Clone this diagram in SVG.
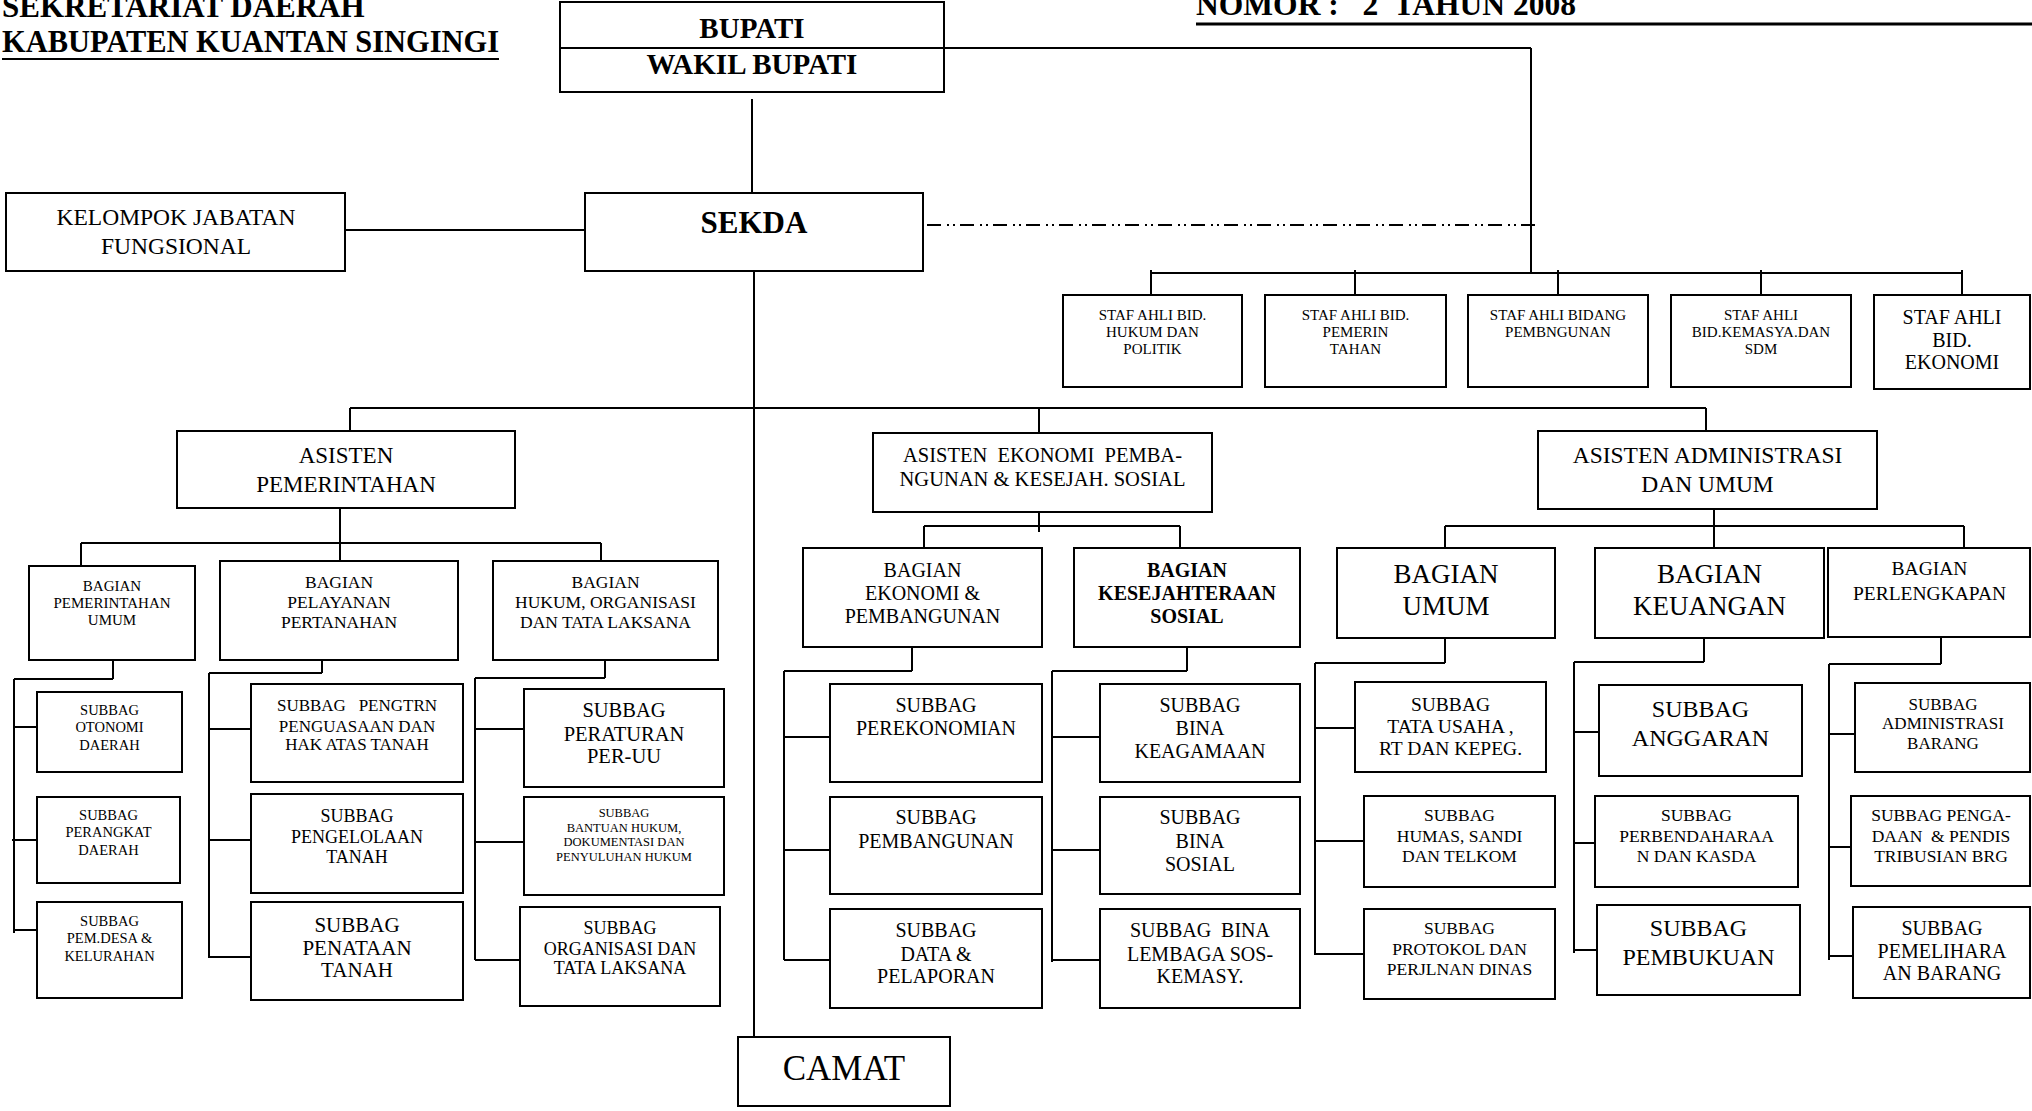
<svg xmlns="http://www.w3.org/2000/svg" width="2032" height="1111" viewBox="0 0 2032 1111">
<style>
.bg{fill:#fff}
.box{fill:#fff;stroke:#000;stroke-width:2}
.c{stroke:#000;stroke-width:2;fill:none}
.dd{stroke:#000;stroke-width:2;fill:none;stroke-dasharray:14 6 2 4 2 5}
text{font-family:"Liberation Serif","Times New Roman",serif;fill:#000;text-anchor:middle}
.b{font-weight:bold}
.l{text-anchor:start}
</style>
<rect class="bg" x="0" y="0" width="2032" height="1111"/>

<g id="title">
<text class="b l" x="2" y="17" font-size="31">SEKRETARIAT DAERAH</text>
<text class="b l" x="2" y="52" font-size="31" textLength="497" lengthAdjust="spacingAndGlyphs">KABUPATEN KUANTAN SINGINGI</text>
<line class="c" x1="2" y1="59" x2="499" y2="59"/>
<text class="b l" x="1196" y="15" font-size="31" xml:space="preserve" textLength="380" lengthAdjust="spacingAndGlyphs">NOMOR :   2  TAHUN 2008</text>
<line x1="1196" y1="24" x2="2032" y2="24" stroke="#000" stroke-width="3"/>
</g>

<g id="connectors">
<line class="c" x1="944" y1="48" x2="1531" y2="48"/>
<line class="c" x1="1531" y1="48" x2="1531" y2="273"/>
<line class="c" x1="1151" y1="273" x2="1962" y2="273"/>
<line class="c" x1="1151" y1="270" x2="1151" y2="295"/>
<line class="c" x1="1355" y1="270" x2="1355" y2="295"/>
<line class="c" x1="1558" y1="270" x2="1558" y2="295"/>
<line class="c" x1="1761" y1="270" x2="1761" y2="295"/>
<line class="c" x1="1962" y1="270" x2="1962" y2="295"/>
<line class="c" x1="752" y1="99" x2="752" y2="193"/>
<line class="c" x1="345" y1="230" x2="585" y2="230"/>
<line class="dd" x1="927" y1="225" x2="1535" y2="225"/>
<line class="c" x1="754" y1="271" x2="754" y2="1037"/>
<line class="c" x1="350" y1="408" x2="1706" y2="408"/>
<line class="c" x1="350" y1="408" x2="350" y2="431"/>
<line class="c" x1="1039" y1="408" x2="1039" y2="433"/>
<line class="c" x1="1706" y1="408" x2="1706" y2="431"/>
<!-- pemerintahan -->
<line class="c" x1="340" y1="508" x2="340" y2="561"/>
<line class="c" x1="81" y1="543" x2="601" y2="543"/>
<line class="c" x1="81" y1="543" x2="81" y2="566"/>
<line class="c" x1="601" y1="543" x2="601" y2="561"/>
<line class="c" x1="113" y1="660" x2="113" y2="679"/>
<line class="c" x1="14" y1="679" x2="113" y2="679"/>
<line class="c" x1="14" y1="679" x2="14" y2="933"/>
<line class="c" x1="14" y1="727" x2="37" y2="727"/>
<line class="c" x1="12" y1="840" x2="37" y2="840"/>
<line class="c" x1="14" y1="930" x2="37" y2="930"/>
<line class="c" x1="322" y1="660" x2="322" y2="673"/>
<line class="c" x1="209" y1="673" x2="322" y2="673"/>
<line class="c" x1="209" y1="673" x2="209" y2="958"/>
<line class="c" x1="209" y1="729" x2="251" y2="729"/>
<line class="c" x1="209" y1="840" x2="251" y2="840"/>
<line class="c" x1="209" y1="957" x2="251" y2="957"/>
<line class="c" x1="605" y1="660" x2="605" y2="678"/>
<line class="c" x1="475" y1="678" x2="605" y2="678"/>
<line class="c" x1="475" y1="678" x2="475" y2="960"/>
<line class="c" x1="475" y1="729" x2="524" y2="729"/>
<line class="c" x1="475" y1="842" x2="524" y2="842"/>
<line class="c" x1="475" y1="960" x2="520" y2="960"/>
<!-- ekonomi -->
<line class="c" x1="1039" y1="512" x2="1039" y2="532"/>
<line class="c" x1="924" y1="526" x2="1180" y2="526"/>
<line class="c" x1="924" y1="526" x2="924" y2="548"/>
<line class="c" x1="1180" y1="526" x2="1180" y2="548"/>
<line class="c" x1="912" y1="647" x2="912" y2="671"/>
<line class="c" x1="784" y1="671" x2="912" y2="671"/>
<line class="c" x1="784" y1="671" x2="784" y2="960"/>
<line class="c" x1="784" y1="737" x2="830" y2="737"/>
<line class="c" x1="784" y1="850" x2="830" y2="850"/>
<line class="c" x1="784" y1="960" x2="830" y2="960"/>
<line class="c" x1="1187" y1="647" x2="1187" y2="671"/>
<line class="c" x1="1052" y1="671" x2="1187" y2="671"/>
<line class="c" x1="1052" y1="671" x2="1052" y2="962"/>
<line class="c" x1="1052" y1="737" x2="1100" y2="737"/>
<line class="c" x1="1052" y1="850" x2="1100" y2="850"/>
<line class="c" x1="1052" y1="960" x2="1100" y2="960"/>
<!-- administrasi -->
<line class="c" x1="1714" y1="509" x2="1714" y2="548"/>
<line class="c" x1="1445" y1="526" x2="1964" y2="526"/>
<line class="c" x1="1445" y1="526" x2="1445" y2="548"/>
<line class="c" x1="1964" y1="526" x2="1964" y2="548"/>
<line class="c" x1="1445" y1="638" x2="1445" y2="663"/>
<line class="c" x1="1315" y1="663" x2="1445" y2="663"/>
<line class="c" x1="1315" y1="663" x2="1315" y2="955"/>
<line class="c" x1="1315" y1="728" x2="1355" y2="728"/>
<line class="c" x1="1315" y1="841" x2="1364" y2="841"/>
<line class="c" x1="1315" y1="954" x2="1364" y2="954"/>
<line class="c" x1="1704" y1="638" x2="1704" y2="662"/>
<line class="c" x1="1574" y1="662" x2="1704" y2="662"/>
<line class="c" x1="1574" y1="662" x2="1574" y2="953"/>
<line class="c" x1="1574" y1="732" x2="1599" y2="732"/>
<line class="c" x1="1574" y1="843" x2="1595" y2="843"/>
<line class="c" x1="1574" y1="950" x2="1597" y2="950"/>
<line class="c" x1="1941" y1="637" x2="1941" y2="664"/>
<line class="c" x1="1829" y1="664" x2="1941" y2="664"/>
<line class="c" x1="1829" y1="664" x2="1829" y2="960"/>
<line class="c" x1="1829" y1="734" x2="1855" y2="734"/>
<line class="c" x1="1829" y1="847" x2="1851" y2="847"/>
<line class="c" x1="1829" y1="956" x2="1853" y2="956"/>
</g>

<g id="bupati">
<rect class="box" x="560" y="2" width="384" height="90"/>
<line class="c" x1="560" y1="48" x2="944" y2="48"/>
<text class="b" x="752" y="38" font-size="29">BUPATI</text>
<text class="b" x="752" y="74" font-size="29">WAKIL BUPATI</text>
</g>
<g id="kelompok">
<rect class="box" x="6" y="193" width="339" height="78"/>
<text font-size="23.5"><tspan x="176" y="225">KELOMPOK JABATAN</tspan><tspan x="176" y="254">FUNGSIONAL</tspan></text>
</g>
<g id="sekda">
<rect class="box" x="585" y="193" width="338" height="78"/>
<text class="b" x="754" y="233" font-size="31">SEKDA</text>
</g>

<g id="staf1">
<rect class="box" x="1063" y="295" width="179" height="92"/>
<text font-size="15"><tspan x="1152.5" y="320">STAF AHLI BID.</tspan><tspan x="1152.5" y="337">HUKUM DAN</tspan><tspan x="1152.5" y="354">POLITIK</tspan></text>
</g>
<g id="staf2">
<rect class="box" x="1265" y="295" width="181" height="92"/>
<text font-size="15"><tspan x="1355.5" y="320">STAF AHLI BID.</tspan><tspan x="1355.5" y="337">PEMERIN</tspan><tspan x="1355.5" y="354">TAHAN</tspan></text>
</g>
<g id="staf3">
<rect class="box" x="1468" y="295" width="180" height="92"/>
<text font-size="15"><tspan x="1558" y="320">STAF AHLI BIDANG</tspan><tspan x="1558" y="337">PEMBNGUNAN</tspan></text>
</g>
<g id="staf4">
<rect class="box" x="1671" y="295" width="180" height="92"/>
<text font-size="15"><tspan x="1761" y="320">STAF AHLI</tspan><tspan x="1761" y="337">BID.KEMASYA.DAN</tspan><tspan x="1761" y="354">SDM</tspan></text>
</g>
<g id="staf5">
<rect class="box" x="1874" y="295" width="156" height="94"/>
<text font-size="20"><tspan x="1952" y="324">STAF AHLI</tspan><tspan x="1952" y="347">BID.</tspan><tspan x="1952" y="369">EKONOMI</tspan></text>
</g>

<g id="asisten-pemerintahan">
<rect class="box" x="177" y="431" width="338" height="77"/>
<text font-size="23"><tspan x="346" y="463">ASISTEN</tspan><tspan x="346" y="492">PEMERINTAHAN</tspan></text>
</g>
<g id="bagian-pemerintahan-umum">
<rect class="box" x="29" y="566" width="166" height="94"/>
<text font-size="15"><tspan x="112" y="591">BAGIAN</tspan><tspan x="112" y="608">PEMERINTAHAN</tspan><tspan x="112" y="625">UMUM</tspan></text>
</g>
<g id="bagian-pelayanan-pertanahan">
<rect class="box" x="220" y="561" width="238" height="99"/>
<text font-size="17.5"><tspan x="339" y="588">BAGIAN</tspan><tspan x="339" y="608">PELAYANAN</tspan><tspan x="339" y="628">PERTANAHAN</tspan></text>
</g>
<g id="bagian-hukum">
<rect class="box" x="493" y="561" width="225" height="99"/>
<text font-size="17.5"><tspan x="605.5" y="588">BAGIAN</tspan><tspan x="605.5" y="608">HUKUM, ORGANISASI</tspan><tspan x="605.5" y="628">DAN TATA LAKSANA</tspan></text>
</g>
<g id="subbag-otonomi">
<rect class="box" x="37" y="692" width="145" height="80"/>
<text font-size="14.5"><tspan x="109.5" y="715">SUBBAG</tspan><tspan x="109.5" y="732">OTONOMI</tspan><tspan x="109.5" y="750">DAERAH</tspan></text>
</g>
<g id="subbag-perangkat">
<rect class="box" x="37" y="797" width="143" height="86"/>
<text font-size="14.5"><tspan x="108.5" y="820">SUBBAG</tspan><tspan x="108.5" y="837">PERANGKAT</tspan><tspan x="108.5" y="855">DAERAH</tspan></text>
</g>
<g id="subbag-pemdesa">
<rect class="box" x="37" y="902" width="145" height="96"/>
<text font-size="14.5"><tspan x="109.5" y="926">SUBBAG</tspan><tspan x="109.5" y="943">PEM.DESA &amp;</tspan><tspan x="109.5" y="961">KELURAHAN</tspan></text>
</g>
<g id="subbag-pengtrn">
<rect class="box" x="251" y="684" width="212" height="98"/>
<text font-size="17" xml:space="preserve"><tspan x="357" y="711">SUBBAG   PENGTRN</tspan><tspan x="357" y="732">PENGUASAAN DAN</tspan><tspan x="357" y="750">HAK ATAS TANAH</tspan></text>
</g>
<g id="subbag-pengelolaan">
<rect class="box" x="251" y="794" width="212" height="99"/>
<text font-size="18"><tspan x="357" y="822">SUBBAG</tspan><tspan x="357" y="843">PENGELOLAAN</tspan><tspan x="357" y="863">TANAH</tspan></text>
</g>
<g id="subbag-penataan">
<rect class="box" x="251" y="902" width="212" height="98"/>
<text font-size="21"><tspan x="357" y="932">SUBBAG</tspan><tspan x="357" y="955">PENATAAN</tspan><tspan x="357" y="977">TANAH</tspan></text>
</g>
<g id="subbag-peraturan">
<rect class="box" x="524" y="689" width="200" height="98"/>
<text font-size="20.5"><tspan x="624" y="717">SUBBAG</tspan><tspan x="624" y="741">PERATURAN</tspan><tspan x="624" y="763">PER-UU</tspan></text>
</g>
<g id="subbag-bantuan-hukum">
<rect class="box" x="524" y="797" width="200" height="98"/>
<text font-size="12.5"><tspan x="624" y="817">SUBBAG</tspan><tspan x="624" y="832">BANTUAN HUKUM,</tspan><tspan x="624" y="846">DOKUMENTASI DAN</tspan><tspan x="624" y="861">PENYULUHAN HUKUM</tspan></text>
</g>
<g id="subbag-organisasi">
<rect class="box" x="520" y="907" width="200" height="99"/>
<text font-size="18"><tspan x="620" y="934">SUBBAG</tspan><tspan x="620" y="955">ORGANISASI DAN</tspan><tspan x="620" y="974">TATA LAKSANA</tspan></text>
</g>

<g id="camat">
<rect class="box" x="738" y="1037" width="212" height="69"/>
<text x="844" y="1080" font-size="35">CAMAT</text>
</g>

<g id="asisten-ekonomi">
<rect class="box" x="873" y="433" width="339" height="79"/>
<text font-size="20.5" xml:space="preserve"><tspan x="1042.5" y="462">ASISTEN  EKONOMI  PEMBA-</tspan><tspan x="1042.5" y="486">NGUNAN &amp; KESEJAH. SOSIAL</tspan></text>
</g>
<g id="bagian-ekonomi">
<rect class="box" x="803" y="548" width="239" height="99"/>
<text font-size="20"><tspan x="922.5" y="577">BAGIAN</tspan><tspan x="922.5" y="600">EKONOMI &amp;</tspan><tspan x="922.5" y="623">PEMBANGUNAN</tspan></text>
</g>
<g id="bagian-kesejahteraan">
<rect class="box" x="1074" y="548" width="226" height="99"/>
<text class="b" font-size="20"><tspan x="1187" y="577">BAGIAN</tspan><tspan x="1187" y="600">KESEJAHTERAAN</tspan><tspan x="1187" y="623">SOSIAL</tspan></text>
</g>
<g id="subbag-perekonomian">
<rect class="box" x="830" y="684" width="212" height="98"/>
<text font-size="20"><tspan x="936" y="712">SUBBAG</tspan><tspan x="936" y="735">PEREKONOMIAN</tspan></text>
</g>
<g id="subbag-pembangunan">
<rect class="box" x="830" y="797" width="212" height="97"/>
<text font-size="20"><tspan x="936" y="824">SUBBAG</tspan><tspan x="936" y="848">PEMBANGUNAN</tspan></text>
</g>
<g id="subbag-data">
<rect class="box" x="830" y="909" width="212" height="99"/>
<text font-size="20"><tspan x="936" y="937">SUBBAG</tspan><tspan x="936" y="961">DATA &amp;</tspan><tspan x="936" y="983">PELAPORAN</tspan></text>
</g>
<g id="subbag-keagamaan">
<rect class="box" x="1100" y="684" width="200" height="98"/>
<text font-size="20"><tspan x="1200" y="712">SUBBAG</tspan><tspan x="1200" y="735">BINA</tspan><tspan x="1200" y="758">KEAGAMAAN</tspan></text>
</g>
<g id="subbag-bina-sosial">
<rect class="box" x="1100" y="797" width="200" height="97"/>
<text font-size="20"><tspan x="1200" y="824">SUBBAG</tspan><tspan x="1200" y="848">BINA</tspan><tspan x="1200" y="871">SOSIAL</tspan></text>
</g>
<g id="subbag-lembaga">
<rect class="box" x="1100" y="909" width="200" height="99"/>
<text font-size="20" xml:space="preserve"><tspan x="1200" y="937">SUBBAG  BINA</tspan><tspan x="1200" y="961">LEMBAGA SOS-</tspan><tspan x="1200" y="983">KEMASY.</tspan></text>
</g>

<g id="asisten-administrasi">
<rect class="box" x="1538" y="431" width="339" height="78"/>
<text font-size="23.5"><tspan x="1707.5" y="463">ASISTEN ADMINISTRASI</tspan><tspan x="1707.5" y="492">DAN UMUM</tspan></text>
</g>
<g id="bagian-umum">
<rect class="box" x="1337" y="548" width="218" height="90"/>
<text font-size="27"><tspan x="1446" y="583">BAGIAN</tspan><tspan x="1446" y="615">UMUM</tspan></text>
</g>
<g id="bagian-keuangan">
<rect class="box" x="1595" y="548" width="229" height="90"/>
<text font-size="27"><tspan x="1709.5" y="583">BAGIAN</tspan><tspan x="1709.5" y="615">KEUANGAN</tspan></text>
</g>
<g id="bagian-perlengkapan">
<rect class="box" x="1828" y="548" width="202" height="89"/>
<text font-size="19.5"><tspan x="1929.5" y="575">BAGIAN</tspan><tspan x="1929.5" y="600">PERLENGKAPAN</tspan></text>
</g>
<g id="subbag-tata-usaha">
<rect class="box" x="1355" y="682" width="191" height="90"/>
<text font-size="19.5"><tspan x="1450.5" y="711">SUBBAG</tspan><tspan x="1450.5" y="733">TATA USAHA ,</tspan><tspan x="1450.5" y="755">RT DAN KEPEG.</tspan></text>
</g>
<g id="subbag-humas">
<rect class="box" x="1364" y="796" width="191" height="91"/>
<text font-size="17.5"><tspan x="1459.5" y="821">SUBBAG</tspan><tspan x="1459.5" y="842">HUMAS, SANDI</tspan><tspan x="1459.5" y="862">DAN TELKOM</tspan></text>
</g>
<g id="subbag-protokol">
<rect class="box" x="1364" y="909" width="191" height="90"/>
<text font-size="17.5"><tspan x="1459.5" y="934">SUBBAG</tspan><tspan x="1459.5" y="955">PROTOKOL DAN</tspan><tspan x="1459.5" y="975">PERJLNAN DINAS</tspan></text>
</g>
<g id="subbag-anggaran">
<rect class="box" x="1599" y="685" width="203" height="91"/>
<text font-size="24"><tspan x="1700.5" y="717">SUBBAG</tspan><tspan x="1700.5" y="746">ANGGARAN</tspan></text>
</g>
<g id="subbag-perbendaharaan">
<rect class="box" x="1595" y="796" width="203" height="91"/>
<text font-size="17.5"><tspan x="1696.5" y="821">SUBBAG</tspan><tspan x="1696.5" y="842">PERBENDAHARAA</tspan><tspan x="1696.5" y="862">N DAN KASDA</tspan></text>
</g>
<g id="subbag-pembukuan">
<rect class="box" x="1597" y="905" width="203" height="90"/>
<text font-size="24"><tspan x="1698.5" y="936">SUBBAG</tspan><tspan x="1698.5" y="965">PEMBUKUAN</tspan></text>
</g>
<g id="subbag-administrasi-barang">
<rect class="box" x="1855" y="683" width="175" height="89"/>
<text font-size="17"><tspan x="1943" y="710">SUBBAG</tspan><tspan x="1943" y="729">ADMINISTRASI</tspan><tspan x="1943" y="749">BARANG</tspan></text>
</g>
<g id="subbag-pengadaan">
<rect class="box" x="1851" y="796" width="179" height="90"/>
<text font-size="17.5" xml:space="preserve"><tspan x="1941" y="821">SUBBAG PENGA-</tspan><tspan x="1941" y="842">DAAN  &amp; PENDIS</tspan><tspan x="1941" y="862">TRIBUSIAN BRG</tspan></text>
</g>
<g id="subbag-pemeliharaan">
<rect class="box" x="1853" y="907" width="177" height="91"/>
<text font-size="20"><tspan x="1942" y="935">SUBBAG</tspan><tspan x="1942" y="958">PEMELIHARA</tspan><tspan x="1942" y="980">AN BARANG</tspan></text>
</g>
</svg>
